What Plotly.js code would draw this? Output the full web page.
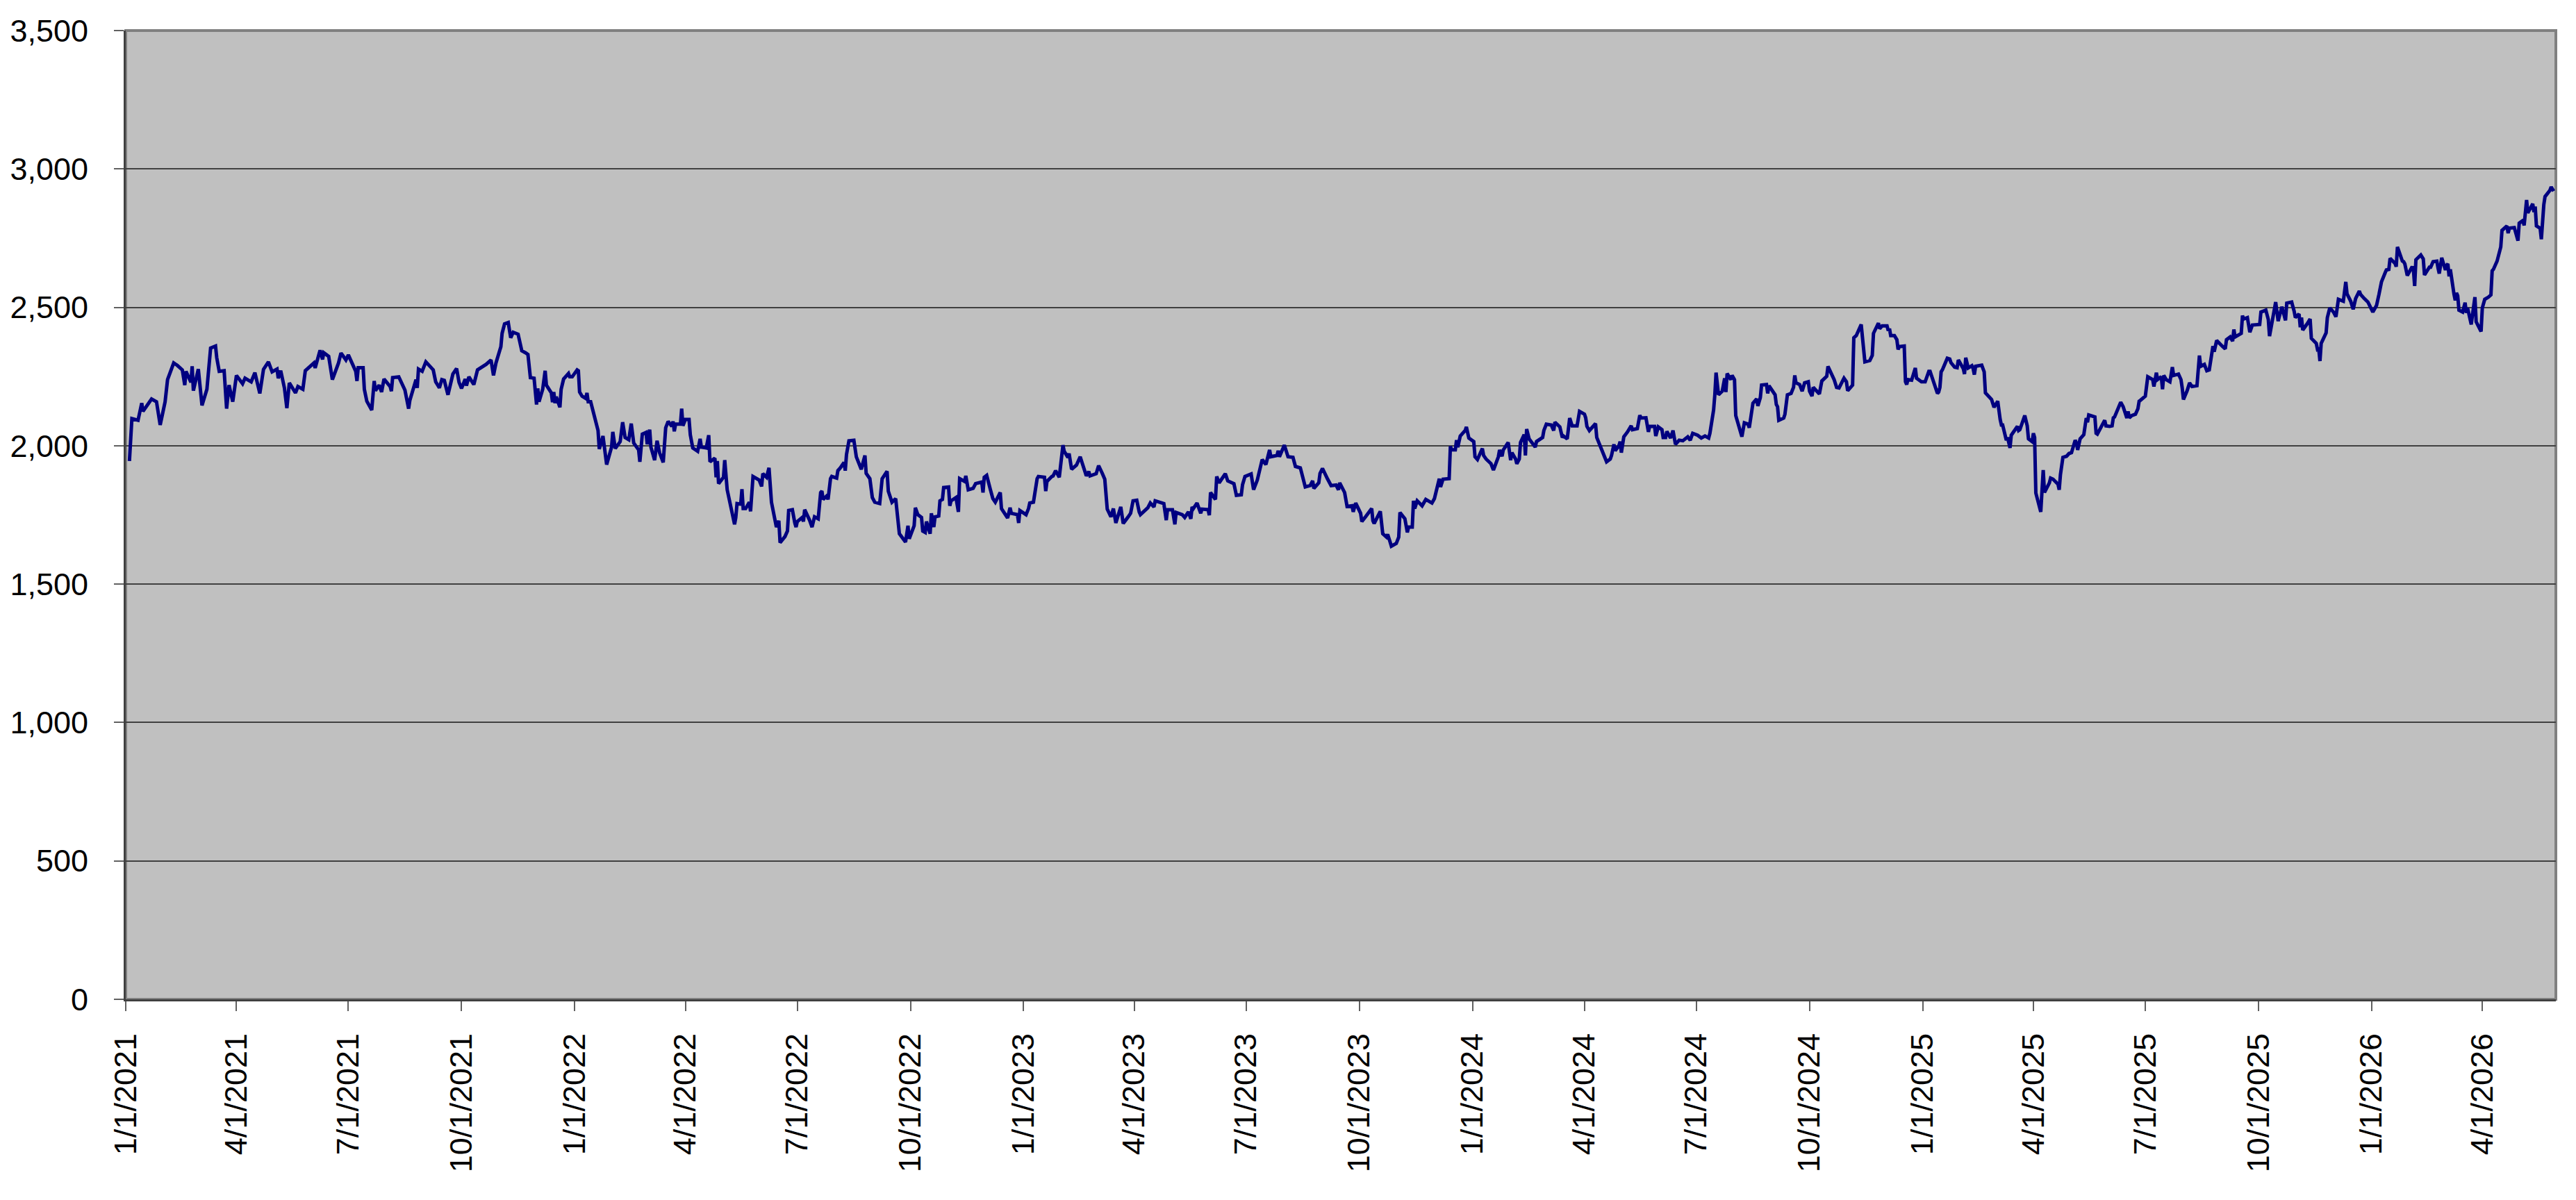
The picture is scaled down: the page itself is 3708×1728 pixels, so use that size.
<!DOCTYPE html>
<html>
<head>
<meta charset="utf-8">
<script src="https://cdn.plot.ly/plotly-3.0.1.min.js"></script>
<style>
  html, body { margin: 0; padding: 0; background: #ffffff; }
  #chart { width: 3708px; height: 1728px; }
</style>
</head>
<body>
<div id="chart"></div>
<script>
// Daily index level (month-day per year)
const days2021 = ['01-04','01-06','01-11','01-14','01-15','01-21','01-22','01-26','01-28','01-29',
  '02-02','02-04','02-09','02-12','02-16','02-18','02-19','02-23','02-24','02-25',
  '03-01','03-04','03-08','03-11','03-15','03-16','03-18','03-22','03-24','03-26','03-29',
  '04-01','04-06','04-08','04-13','04-16','04-20','04-23','04-27','04-30',
  '05-04','05-05','05-07','05-10','05-12','05-14','05-19','05-21','05-25','05-27',
  '06-03','06-04','06-08','06-10','06-11','06-15','06-18','06-23','06-25','06-29',
  '07-01','07-07','07-08','07-09','07-13','07-14','07-16','07-20','07-22','07-23','07-26','07-28','07-30',
  '08-04','08-05','08-06','08-11','08-16','08-19','08-20','08-25','08-26','08-27','08-30',
  '09-02','09-08','09-10','09-13','09-15','09-17','09-20','09-24','09-27','09-29',
  '10-01','10-04','10-05','10-07','10-11','10-14','10-21','10-25','10-27','10-29',
  '11-02','11-03','11-05','11-08','11-10','11-12','11-16','11-19','11-22','11-24','11-26','11-29',
  '12-01','12-02','12-03','12-06','12-08','12-09','12-13','12-14','12-15','12-16','12-17','12-20','12-21','12-23','12-27','12-28','12-30'];
const values2021 = [1945,2098,2092,2154,2124,2164,2169,2159,2109,2075,
  2159,2239,2299,2290,2274,2219,2269,2229,2287,2199,
  2277,2146,2204,2353,2360,2318,2269,2271,2134,2219,2159,
  2254,2224,2244,2231,2264,2189,2276,2303,2267,
  2277,2244,2271,2209,2136,2227,2191,2214,2204,2271,
  2299,2281,2345,2312,2336,2323,2239,2299,2335,2310,
  2328,2269,2234,2282,2282,2204,2161,2129,2234,2199,2219,2194,2241,
  2214,2197,2246,2249,2201,2134,2164,2239,2209,2277,2269,
  2303,2274,2231,2209,2239,2236,2184,2259,2279,2229,
  2207,2241,2217,2249,2221,2274,2294,2310,2254,2299,
  2358,2406,2440,2445,2390,2410,2403,2343,2336,2330,2246,2244,
  2149,2207,2159,2204,2271,2219,2191,2157,2194,2154,2177,2139,2204,2241,2261,2249,2249];

const days2022 = ['01-03','01-04','01-05','01-07','01-10','01-11','01-12','01-14','01-18','01-20','01-21','01-24','01-27','01-31',
  '02-01','02-03','02-07','02-09','02-11','02-14','02-16','02-18','02-22','02-23','02-25','02-28',
  '03-01','03-03','03-04','03-07','03-09','03-11','03-14','03-16','03-18','03-21','03-22','03-23','03-24','03-28','03-29','03-30',
  '04-01','04-04','04-05','04-07','04-11','04-13','04-14','04-18','04-20','04-21','04-25','04-26','04-27','04-28',
  '05-02','05-03','05-05','05-09','05-11','05-12','05-13','05-16','05-17','05-18','05-20','05-23','05-24','05-26','05-31',
  '06-02','06-03','06-06','06-08','06-10','06-13','06-14','06-16','06-17','06-21','06-23','06-24','06-27','06-29','06-30',
  '07-01','07-05','07-06','07-07','07-11','07-13','07-15','07-18','07-20','07-21','07-22','07-25','07-26','07-28','07-29',
  '08-02','08-03','08-05','08-08','08-09','08-10','08-12','08-16','08-17','08-18','08-22','08-23','08-25','08-26','08-29','08-31',
  '09-02','09-06','09-08','09-12','09-13','09-16','09-19','09-22','09-27','09-29','09-30',
  '10-04','10-05','10-07','10-10','10-11','10-13','10-14','10-17','10-18','10-20','10-21','10-24','10-25','10-27','10-28',
  '11-01','11-02','11-03','11-07','11-09','11-10','11-14','11-15','11-17','11-21','11-23','11-28','11-29','11-30',
  '12-02','12-05','12-07','12-09','12-13','12-14','12-19','12-21','12-22','12-27','12-28','12-29'];
const values2022 = [2274,2271,2194,2179,2171,2191,2159,2159,2095,2055,1988,2035,1932,1995,
  2050,1990,2015,2085,2030,2022,2080,2010,1985,1942,2042,2048,
  2005,2058,1995,1948,2018,1975,1940,2065,2088,2070,2088,2052,2078,2078,2134,2072,
  2095,2095,2040,1992,1980,2025,1995,1992,2038,1942,1955,1886,1945,1863,
  1886,1948,1841,1761,1716,1741,1791,1789,1843,1773,1773,1796,1763,1889,1876,
  1853,1899,1886,1920,1796,1731,1706,1729,1650,1672,1692,1766,1769,1721,1706,
  1726,1741,1726,1769,1731,1706,1743,1736,1831,1836,1806,1819,1806,1881,1889,
  1883,1910,1920,1940,1910,1968,2018,2020,1995,1960,1915,1930,1965,1900,1881,1813,
  1796,1791,1881,1908,1836,1796,1809,1682,1652,1711,1664,
  1711,1776,1751,1741,1692,1687,1726,1682,1756,1706,1743,1746,1801,1806,1849,
  1851,1783,1801,1813,1761,1881,1871,1891,1841,1846,1863,1869,1831,1886,
  1893,1841,1809,1796,1831,1773,1739,1776,1756,1751,1721,1766];

const days2023 = ['01-03','01-05','01-06','01-09','01-12','01-13','01-18','01-19','01-20','01-24','01-25','01-27','01-30',
  '02-02','02-03','02-06','02-07','02-09','02-13','02-16','02-17','02-21','02-23','02-24',
  '03-01','03-03','03-06','03-08','03-10','03-13','03-15','03-17','03-21','03-23','03-27','03-29','03-31',
  '04-03','04-05','04-06','04-12','04-14','04-17','04-18','04-25','04-27','04-28',
  '05-02','05-04','05-05','05-10','05-12','05-15','05-17','05-18','05-19','05-22','05-25','05-26','05-31',
  '06-01','06-02','06-06','06-07','06-09','06-14','06-16','06-21','06-23','06-27','06-28','06-30',
  '07-05','07-07','07-10','07-11','07-14','07-17','07-18','07-20','07-21','07-26','07-27','07-28',
  '08-01','08-04','08-08','08-10','08-14','08-18','08-22','08-24','08-25','08-29','08-30',
  '09-01','09-05','09-08','09-12','09-14','09-15','09-18','09-19','09-21','09-25','09-26','09-28',
  '10-02','10-03','10-06','10-11','10-12','10-13','10-18','10-20','10-23','10-24','10-26','10-27','10-31',
  '11-02','11-03','11-07','11-09','11-10','11-13','11-14','11-15','11-17','11-21','11-24','11-29',
  '12-01','12-04','12-05','12-06','12-08','12-13','12-14','12-15','12-18','12-19','12-20','12-22','12-26','12-27','12-29'];
const values2023 = [1751,1773,1793,1796,1881,1889,1886,1836,1871,1889,1891,1910,1886,
  2002,1980,1958,1972,1915,1930,1960,1945,1891,1907,1891,
  1899,1928,1900,1879,1771,1743,1773,1721,1779,1719,1743,1756,1801,
  1803,1761,1751,1776,1793,1779,1801,1791,1731,1769,
  1769,1716,1759,1751,1741,1761,1736,1779,1773,1793,1756,1771,1769,
  1749,1831,1806,1889,1866,1899,1873,1863,1821,1823,1859,1889,
  1898,1841,1876,1893,1950,1932,1950,1985,1960,1965,1982,1960,
  2002,1960,1958,1925,1920,1851,1856,1873,1846,1866,1900,
  1918,1881,1856,1858,1841,1866,1843,1831,1781,1783,1761,1793,
  1756,1726,1743,1773,1729,1719,1763,1682,1670,1680,1652,1637,1647,
  1670,1759,1736,1687,1706,1706,1801,1773,1801,1783,1806,1793,
  1809,1863,1881,1851,1879,1881,1998,1985,1985,2020,1995,2035,2055,2068,2028];

const days2024 = ['01-02','01-03','01-05','01-09','01-10','01-12','01-16','01-18','01-22','01-23','01-25','01-26','01-30',
  '02-01','02-02','02-05','02-06','02-08','02-09','02-12','02-13','02-14','02-16','02-21','02-22','02-27','02-28',
  '03-01','03-05','03-07','03-08','03-12','03-14','03-15','03-18','03-20','03-22','03-26','03-28',
  '04-01','04-02','04-03','04-05','04-08','04-10','04-11','04-15','04-17','04-19','04-22','04-23','04-25','04-26','04-29','04-30',
  '05-01','05-03','05-06','05-09','05-10','05-14','05-16','05-17','05-21','05-22','05-23','05-24','05-28','05-29','05-31',
  '06-03','06-04','06-06','06-07','06-10','06-12','06-14','06-17','06-20','06-24','06-26','06-28',
  '07-02','07-05','07-08','07-11','07-12','07-15','07-16','07-17','07-19','07-22','07-24','07-25','07-26','07-29','07-30',
  '08-01','08-02','08-05','08-07','08-09','08-12','08-13','08-14','08-15','08-16','08-19','08-20','08-22','08-23','08-27','08-28','08-29',
  '09-03','09-04','09-05','09-06','09-10','09-11','09-13','09-16','09-18','09-19','09-20','09-23','09-25','09-27','09-30',
  '10-01','10-03','10-04','10-07','10-09','10-11','10-14','10-15','10-16','10-17','10-21','10-23','10-25','10-29','10-31',
  '11-01','11-04','11-05','11-06','11-08','11-12','11-15','11-19','11-21','11-22','11-26','11-27','11-29',
  '12-03','12-04','12-05','12-06','12-09','12-11','12-12','12-13','12-17','12-18','12-19','12-20','12-23','12-26','12-27','12-31'];
const values2024 = [2015,1960,1950,1990,1965,1952,1935,1912,1960,1985,1962,1985,2012,
  1948,1975,1952,1935,1952,2012,2040,1965,2060,2025,1995,2015,2030,2055,
  2078,2075,2055,2085,2068,2030,2035,2025,2100,2072,2072,2124,
  2114,2101,2070,2055,2072,2080,2030,1985,1960,1942,1952,1965,2005,1982,2000,2015,
  1975,2032,2050,2072,2058,2062,2110,2100,2101,2070,2050,2070,2070,2035,2068,
  2058,2030,2030,2052,2028,2055,2005,2020,2018,2032,2020,2045,
  2038,2028,2035,2028,2045,2129,2184,2264,2184,2197,2244,2194,2261,2239,2254,
  2239,2109,2065,2033,2083,2078,2065,2095,2137,2154,2169,2144,2174,2219,2221,2189,2217,
  2184,2149,2141,2092,2100,2114,2184,2189,2211,2254,2227,2221,2197,2227,2231,
  2197,2179,2211,2194,2187,2234,2244,2251,2287,2277,2239,2211,2209,2244,2231,
  2199,2211,2219,2390,2398,2438,2303,2308,2326,2406,2443,2423,2433,
  2433,2416,2423,2398,2398,2383,2348,2358,2360,2231,2221,2239,2237,2281,2244,2231];

const days2025 = ['01-03','01-06','01-07','01-10','01-13','01-14','01-15','01-16','01-17','01-21','01-23','01-24','01-27','01-29','01-30',
  '02-03','02-04','02-05','02-07','02-10','02-11','02-12','02-13','02-18','02-20','02-21','02-24','02-26','02-28',
  '03-03','03-05','03-06','03-07','03-10','03-11','03-13','03-14','03-17','03-19','03-20','03-21','03-25','03-27','03-28','03-31',
  '04-01','04-02','04-03','04-04','04-07','04-09','04-10','04-14','04-15','04-17','04-21','04-22','04-23','04-25','04-28','04-30',
  '05-02','05-05','05-06','05-07','05-09','05-12','05-14','05-15','05-16','05-21','05-22','05-23','05-27','05-29','05-30',
  '06-02','06-04','06-05','06-06','06-09','06-10','06-11','06-13','06-16','06-17','06-18','06-20','06-23','06-25','06-26','06-27','06-30',
  '07-01','07-03','07-07','07-08','07-10','07-11','07-14','07-15','07-16','07-18','07-21','07-23','07-24','07-28','07-30','07-31',
  '08-01','08-04','08-06','08-08','08-12','08-14','08-15','08-18','08-20','08-22','08-25','08-26','08-28',
  '09-02','09-04','09-05','09-08','09-10','09-11','09-12','09-16','09-17','09-18','09-19','09-22','09-24','09-26',
  '10-02','10-03','10-07','10-09','10-10','10-15','10-17','10-20','10-23','10-24','10-28','10-30','10-31',
  '11-03','11-04','11-05','11-06','11-10','11-12','11-13','11-17','11-18','11-19','11-20','11-21','11-25','11-26','11-28',
  '12-01','12-03','12-05','12-09','12-11','12-12','12-15','12-17','12-19','12-22','12-23','12-26','12-29'];
const values2025 = [2231,2269,2269,2231,2189,2194,2211,2267,2274,2316,2313,2300,2284,2282,2310,
  2279,2259,2318,2281,2289,2279,2257,2287,2291,2267,2191,2177,2167,2139,
  2161,2095,2075,2075,2020,2030,1992,2038,2060,2070,2055,2058,2109,2072,2025,2015,
  2045,2030,1829,1813,1761,1912,1831,1866,1883,1879,1861,1841,1896,1958,1962,1972,
  1975,2020,2010,1985,2025,2040,2100,2085,2111,2104,2045,2042,2075,2092,2072,
  2070,2072,2101,2104,2134,2146,2157,2141,2100,2124,2101,2109,2114,2134,2161,2164,2174,
  2179,2249,2239,2214,2264,2239,2249,2204,2254,2239,2231,2284,2254,2259,2239,2209,
  2167,2199,2227,2214,2217,2326,2287,2294,2271,2274,2360,2340,2380,
  2358,2350,2383,2393,2378,2420,2393,2403,2406,2470,2458,2463,2410,2436,
  2438,2483,2490,2456,2396,2519,2450,2502,2453,2515,2519,2486,2463,
  2476,2428,2463,2418,2443,2458,2388,2370,2348,2350,2306,2370,2408,2463,2498,
  2483,2466,2529,2522,2592,2549,2522,2493,2532,2559,2547,2532,2519];

const days2026 = ['01-02','01-05','01-07','01-08','01-09','01-12','01-13','01-15','01-16','01-20','01-21','01-22','01-26','01-27','01-28','01-30',
  '02-03','02-04','02-05','02-06','02-10','02-12','02-13','02-17','02-18','02-20','02-23','02-24','02-25','02-27',
  '03-02','03-03','03-04','03-05','03-06','03-09','03-10','03-11','03-12','03-13','03-16','03-18','03-19','03-20','03-23','03-24','03-26','03-27','03-31',
  '04-01','04-03','04-06','04-08','04-09','04-10','04-13','04-15','04-16','04-17','04-20','04-21','04-22','04-23','04-27','04-28','04-30',
  '05-01','05-04','05-05','05-06','05-07','05-08','05-11','05-12','05-13','05-14','05-15','05-18','05-19','05-20','05-21','05-22','05-26','05-27','05-29'];
const values2026 = [2483,2507,2547,2577,2592,2625,2635,2637,2677,2659,2647,2718,2667,2665,2657,2615,
  2647,2635,2577,2672,2689,2675,2617,2645,2645,2665,2667,2642,2622,2679,
  2635,2652,2657,2612,2637,2547,2525,2552,2542,2490,2483,2517,2480,2498,2438,2473,2537,2448,2413,
  2498,2529,2537,2545,2632,2637,2667,2711,2718,2778,2788,2794,2768,2786,2788,2774,2741,
  2804,2814,2796,2846,2888,2841,2871,2874,2844,2864,2794,2786,2746,2821,2871,2900,2923,2935,2920];

const yTicks = [0, 500, 1000, 1500, 2000, 2500, 3000, 3500];

function buildSeries() {
  const years = [
    [2021, days2021, values2021],
    [2022, days2022, values2022],
    [2023, days2023, values2023],
    [2024, days2024, values2024],
    [2025, days2025, values2025],
    [2026, days2026, values2026]
  ];
  const x = [];
  const y = [];
  years.forEach(([year, days, vals]) => {
    days.forEach((d, i) => {
      x.push(year + '-' + d);
      y.push(vals[i]);
    });
  });
  return { x, y };
}

const series = buildSeries();

const trace = {
  x: series.x,
  y: series.y,
  type: 'scatter',
  mode: 'lines',
  line: { color: '#000080', width: 5 },
  hoverinfo: 'x+y'
};

const axisFont = { family: 'Arial, "Liberation Sans", sans-serif', size: 45, color: '#000000' };

const layout = {
  width: 3708,
  height: 1728,
  margin: { l: 181, r: 29, t: 44, b: 289 },
  paper_bgcolor: '#ffffff',
  plot_bgcolor: '#c0c0c0',
  showlegend: false,
  xaxis: {
    type: 'date',
    range: ['2021-01-01', '2026-05-30 19:00'],
    tick0: '2021-01-01',
    dtick: 'M3',
    tickformat: '%-m/%-d/%Y',
    tickangle: -90,
    tickfont: axisFont,
    ticks: 'outside',
    ticklen: 14,
    tickwidth: 2,
    tickcolor: '#606060',
    ticklabelstandoff: 14,
    showgrid: false,
    zeroline: false,
    showline: true,
    linecolor: '#404040',
    linewidth: 3
  },
  yaxis: {
    range: [0, 3500],
    tickvals: yTicks,
    tickformat: ',d',
    tickfont: axisFont,
    ticks: 'outside',
    ticklen: 14,
    tickwidth: 2,
    tickcolor: '#606060',
    ticklabelstandoff: 28,
    showgrid: true,
    gridcolor: '#404040',
    gridwidth: 2,
    zeroline: false,
    showline: true,
    linecolor: '#404040',
    linewidth: 3
  },
  shapes: [{
    type: 'rect',
    xref: 'paper',
    yref: 'paper',
    x0: 0, x1: 1, y0: 0, y1: 1,
    line: { color: '#808080', width: 4 },
    layer: 'below'
  }]
};

Plotly.newPlot('chart', [trace], layout, { displayModeBar: false, staticPlot: true });
</script>
</body>
</html>
